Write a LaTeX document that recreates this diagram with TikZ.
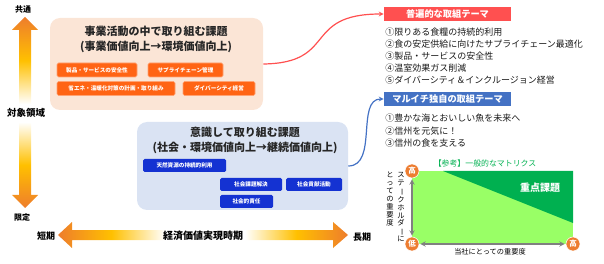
\documentclass[tikz,border=0pt]{standalone}
\usepackage{fontspec}
\setmainfont{Noto Sans CJK JP}
\usetikzlibrary{positioning}
\definecolor{peach}{HTML}{FBE5D6}
\definecolor{paleblue}{HTML}{DAE3F3}
\definecolor{chiporange}{HTML}{FF6414}
\definecolor{chipblue}{HTML}{1432D2}
\definecolor{themered}{HTML}{FF5050}
\definecolor{themeblue}{HTML}{4472C4}
\definecolor{arrowor}{HTML}{EE7D2C}
\definecolor{arrowyel}{HTML}{FFC000}
\definecolor{lightgreen}{HTML}{99FF66}
\definecolor{darkgreen}{HTML}{00B050}
\definecolor{dotorange}{HTML}{ED7D31}
\newcommand{\vbar}{\rotatebox[origin=c]{-90}{ー}}
\begin{document}
\begin{tikzpicture}[x=1pt,y=-1pt,>=stealth,line width=.55pt,
  bigbox/.style={rounded corners=10pt,inner sep=0pt},
  boxtitle/.style={align=center,font=\bfseries\fontsize{11}{15}\selectfont,text=black!85},
  chip/.style={rounded corners=1.5pt,inner sep=0pt,text=white,font=\bfseries\fontsize{5.6}{6}\selectfont},
  ochip/.style={chip,fill=chiporange,draw=chiporange!60,minimum height=14pt},
  bchip/.style={chip,fill=chipblue,minimum height=13pt},
  theme/.style={inner sep=0pt,minimum width=127pt,minimum height=14pt,text=white,font=\bfseries\fontsize{9.2}{10}\selectfont},
  listtext/.style={align=left,inner sep=0pt,anchor=north west,text=black!90,font=\fontsize{9}{12}\selectfont},
  axislabel/.style={font=\bfseries\fontsize{8}{9}\selectfont},
  dot/.style={circle,fill=dotorange,draw=white,inner sep=0pt,minimum size=14pt,text=white,font=\bfseries\fontsize{7.5}{8}\selectfont},
  vcol/.style={align=center,inner sep=0pt,anchor=north,font=\fontsize{7.3}{7.9}\selectfont}]
  \useasboundingbox (0,0) rectangle (604,264);

  % axis arrows
  \shade[top color=arrowor,bottom color=white,middle color=arrowyel]
    (19,104)--(19,30)--(12,30)--(25,17)--(38,30)--(31,30)--(31,104)--cycle;
  \shade[top color=white,bottom color=arrowor,middle color=arrowyel]
    (19,122)--(19,195)--(12,195)--(25,208)--(38,195)--(31,195)--(31,122)--cycle;
  \shade[left color=arrowor,right color=white,middle color=arrowyel]
    (165,230)--(72,230)--(72,222)--(58,235)--(72,248)--(72,240)--(165,240)--cycle;
  \shade[left color=white,right color=arrowor,middle color=arrowyel]
    (245,230)--(333,230)--(333,222)--(348,235)--(333,248)--(333,240)--(245,240)--cycle;
  \node[axislabel] (common) at (23,9) {共通};
  \node[axislabel,font=\bfseries\fontsize{9.5}{10}\selectfont] (scope) at (26,113) {対象領域};
  \node[axislabel] (limited) at (22,217) {限定};
  \node[axislabel,font=\bfseries\fontsize{9}{10}\selectfont] (short) at (46,236) {短期};
  \node[axislabel,font=\bfseries\fontsize{9}{10}\selectfont] (long) at (362,237) {長期};
  \node[axislabel,font=\bfseries\fontsize{10}{11}\selectfont] (period) at (203,236) {経済価値実現時期};

  % business issues
  \node[bigbox,fill=peach,minimum width=213pt,minimum height=92pt] (issue1) at (156.5,64) {};
  \node[boxtitle] (issue1t) at (156,39.5) {事業活動の中で取り組む課題\\(事業価値向上→環境価値向上)};
  \node[ochip,minimum width=80pt] (safety) at (97,70) {製品・サービスの安全性};
  \node[ochip,minimum width=75pt] (supply) at (185.5,70) {サプライチェーン管理};
  \node[ochip,minimum width=118pt] (energy) at (116,88.5) {省エネ・温暖化対策の計画・取り組み};
  \node[ochip,minimum width=72pt] (diversity) at (219,88.5) {ダイバーシティ経営};

  % conscious issues
  \node[bigbox,fill=paleblue,minimum width=211pt,minimum height=88pt] (issue2) at (242.5,166) {};
  \node[boxtitle] (issue2t) at (245,140.5) {意識して取り組む課題\\(社会・環境価値向上→継続価値向上)};
  \node[bchip,minimum width=83pt] (resource) at (184.5,165.5) {天然資源の持続的利用};
  \node[bchip,minimum width=62pt] (social) at (251,184.5) {社会課題解決};
  \node[bchip,minimum width=56pt] (contrib) at (314,184.5) {社会貢献活動};
  \node[bchip,minimum width=53pt] (respons) at (246.5,201.5) {社会的責任};

  % themes
  \node[theme,fill=themered] (univ) at (447.5,14) {普遍的な取組テーマ};
  \node[listtext] (univlist) at (385,27.5) {①限りある食糧の持続的利用\\②食の安定供給に向けたサプライチェーン最適化\\③製品・サービスの安全性\\④温室効果ガス削減\\⑤ダイバーシティ＆インクルージョン経営};
  \node[theme,fill=themeblue] (own) at (447.5,99) {マルイチ独自の取組テーマ};
  \node[listtext,font=\fontsize{9}{12.5}\selectfont] (ownlist) at (385,114) {①豊かな海とおいしい魚を未来へ\\②信州を元気に！\\③信州の食を支える};
  \draw[->,themered,line width=1.2pt] (issue1.east) .. controls (338,63) and (302,14) .. (univ.west);
  \draw[->,themeblue,line width=1.2pt] (issue2.east) .. controls (378,166) and (356,99) .. (own.west);

  % matrix
  \node[text=darkgreen,font=\fontsize{7.9}{8}\selectfont] (mtitle) at (485,163) {【参考】一般的なマトリクス};
  \fill[lightgreen] (412,171) rectangle (573,244);
  \fill[darkgreen] (443,171)--(573,171)--(573,223)--cycle;
  \node[text=white,font=\bfseries\fontsize{10}{11}\selectfont] (focus) at (540,188) {重点課題};
  \node[dot] (hiy) at (412,171) {高};
  \node[dot] (lo) at (412,244) {低};
  \node[dot] (hix) at (573,244) {高};
  \draw[<->,gray,line width=1.4pt,shorten <=1pt,shorten >=1pt] (hiy) -- (lo);
  \draw[<->,gray,line width=1.4pt,shorten <=1pt,shorten >=1pt] (lo) -- (hix);
  \node[font=\fontsize{7.2}{8}\selectfont] (xlabel) at (490,251.5) {当社にとっての重要度};
  \node[vcol] (ylabel1) at (401,172) {ス\\テ\\\vbar\\ク\\ホ\\ル\\ダ\\\vbar\\に};
  \node[vcol] (ylabel2) at (390,172) {と\\っ\\て\\の\\重\\要\\度};
\end{tikzpicture}
\end{document}
